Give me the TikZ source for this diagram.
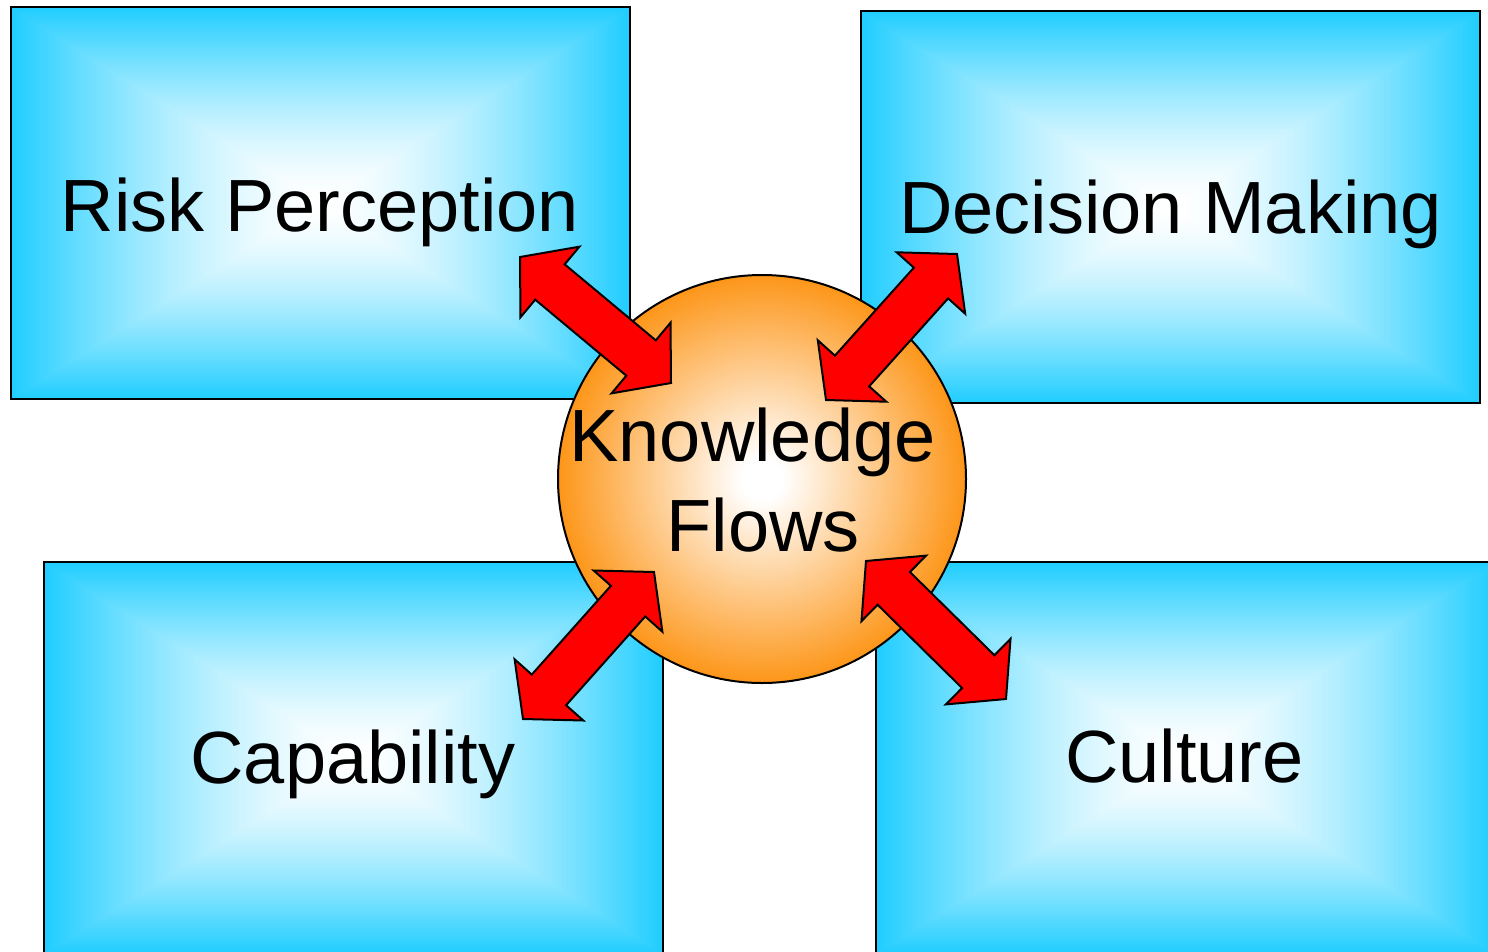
\documentclass[tikz,border=0pt]{standalone}
\usepackage{fontspec}
\setmainfont{Liberation Sans}
\usetikzlibrary{calc}

\definecolor{boxcyan}{RGB}{30,205,255}
\definecolor{orbcol}{RGB}{253,150,25}
\definecolor{arrred}{RGB}{255,0,0}

% rectangular glow: white centre, cyan edges (path box = central 50bp square)
\pgfdeclarefunctionalshading{rectglow}{\pgfpoint{-50bp}{-50bp}}{\pgfpoint{50bp}{50bp}}{}{%
  abs exch abs 2 copy lt {exch} if pop 25 div
  dup 1 gt {pop 1} if
  dup sqrt mul
  dup 0.88 mul 1 exch sub exch 0.196 mul 1 exch sub 1}
\pgfdeclareradialshading{orbglow}{\pgfpoint{0bp}{0bp}}{%
  color(0bp)=(white); color(2.5bp)=(white); color(25bp)=(orbcol); color(50bp)=(orbcol)}

\newcommand\flowarrow[2]{%
  \draw[flow] (#1)
    -- ($(#1)!39pt!(#2)!46pt!90:(#2)$)
    -- ($(#1)!39pt!(#2)!23pt!90:(#2)$)
    -- ($(#2)!39pt!(#1)!23pt!-90:(#1)$)
    -- ($(#2)!39pt!(#1)!46pt!-90:(#1)$)
    -- (#2)
    -- ($(#2)!39pt!(#1)!46pt!90:(#1)$)
    -- ($(#2)!39pt!(#1)!23pt!90:(#1)$)
    -- ($(#1)!39pt!(#2)!23pt!-90:(#2)$)
    -- ($(#1)!39pt!(#2)!46pt!-90:(#2)$)
    -- cycle;}

\tikzset{
  box/.style={draw=black, line width=2pt, shade, shading=rectglow,
    minimum width=619pt, minimum height=392pt, inner sep=0pt},
  orb/.style={circle, draw=black, line width=2pt, shade, shading=orbglow,
    minimum size=408pt, inner sep=0pt},
  flow/.style={draw=black, line width=2pt, fill=arrred, line join=miter},
  lbl/.style={inner sep=0pt, anchor=base, font=\fontsize{74}{87}\selectfont}
}

\begin{document}
\begin{tikzpicture}[x=1pt,y=-1pt]
\clip (0,0) rectangle (1488,951);
\fill[white] (0,0) rectangle (1488,951);

\node[box] (risk) at (320,203) {};
\node[box] (decision) at (1170.5,207) {};
\node[box] (capability) at (353.5,758) {};
\node[box] (culture) at (1185.5,758) {};

\node[orb] (knowledge) at (762,479) {};

\coordinate (r1) at (520,257);
\coordinate (r2) at (671,383);
\coordinate (d1) at (957,254);
\coordinate (d2) at (826,400);
\coordinate (c1) at (654,572);
\coordinate (c2) at (523,719);
\coordinate (u1) at (866,561);
\coordinate (u2) at (1006,699);

\flowarrow{r1}{r2}
\flowarrow{d1}{d2}
\flowarrow{c1}{c2}
\flowarrow{u1}{u2}

\node[lbl] (risktext) at (320,231) {Risk Perception};
\node[lbl] (decisiontext) at (1170.5,233) {Decision Making};
\node[lbl] (capabilitytext) at (353,783) {Capability};
\node[lbl] (culturetext) at (1184.5,782) {Culture};
\node[lbl] (kftext1) at (752.5,461) {Knowledge};
\node[lbl] (kftext2) at (763,551) {Flows};
\end{tikzpicture}
\end{document}
